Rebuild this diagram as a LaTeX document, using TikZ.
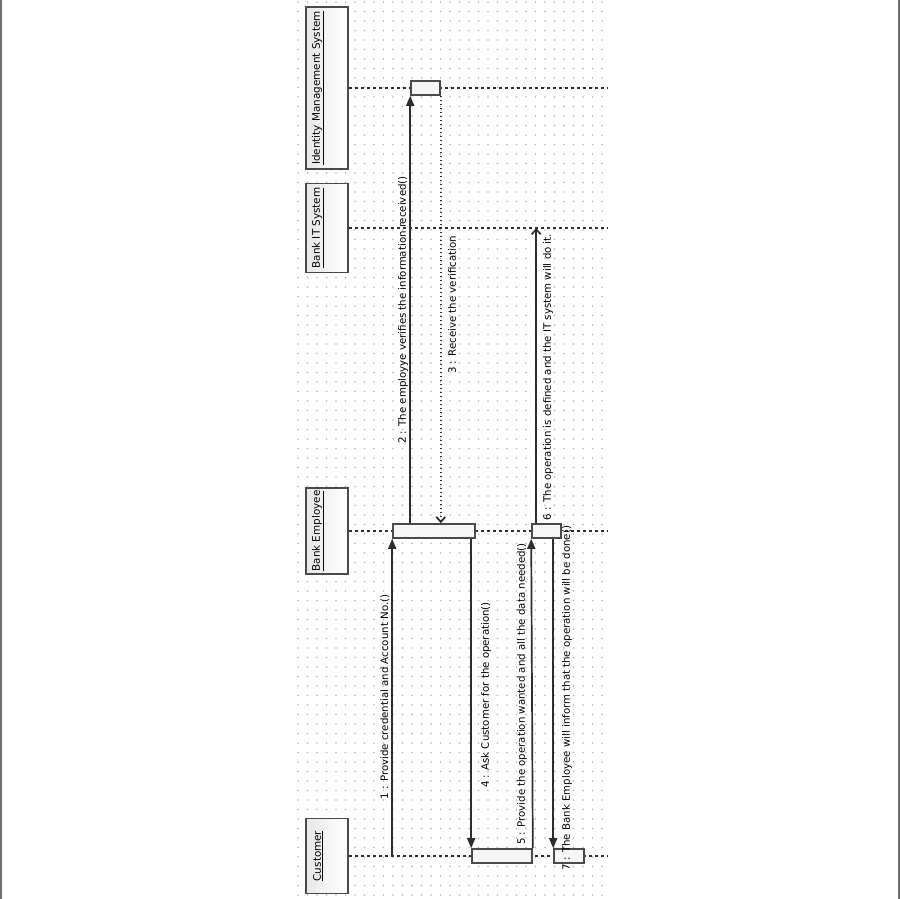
\documentclass[tikz,border=0pt]{standalone}
\usepackage{fontspec}
\setmainfont{DejaVu Sans}
\usetikzlibrary{arrows.meta,calc}
\definecolor{inkgray}{HTML}{2E2E2E}
\definecolor{boxedge}{HTML}{4A4A4A}
\definecolor{dotgray}{HTML}{B5B5B5}
\definecolor{framegray}{HTML}{707070}
\definecolor{actfill}{HTML}{F6F6F6}
\tikzset{
  party/.style={draw=boxedge, line width=1.6pt, left color=black!9, right color=white,
    minimum width=42pt, inner sep=0pt},
  partyname/.style={rotate=90, font=\fontsize{10.4}{12}\selectfont, text=black, inner sep=0pt},
  lifeline/.style={draw=inkgray, line width=1.9pt, dash pattern=on 3pt off 3pt},
  actbox/.style={draw=boxedge, line width=1.6pt, fill=actfill, minimum height=14pt, inner sep=0pt},
  callmsg/.style={draw=inkgray, line width=1.7pt, -{Triangle[length=10pt,width=8pt]}},
  asyncmsg/.style={draw=inkgray, line width=1.7pt, -{Straight Barb[length=5pt,width=9pt]}},
  replymsg/.style={draw=inkgray, line width=1.8pt, dash pattern=on 1.6pt off 2.4pt,
    -{Straight Barb[length=5pt,width=9pt]}},
  msglabel/.style={rotate=90, font=\fontsize{10.2}{12}\selectfont, text=black, inner sep=0pt}
}
\begin{document}
\begin{tikzpicture}[x=1pt,y=-1pt]
\useasboundingbox (0,0) rectangle (900,899);
\fill[white] (0,0) rectangle (900,899);
% page frame
\draw[framegray, line width=1.8pt] (0.9,0) -- (0.9,899);
\draw[framegray, line width=1.8pt] (899.1,0) -- (899.1,899);
% dotted drawing grid
\foreach \i in {0,...,32}
  \foreach \j in {0,...,94}
    \fill[dotgray] (298+\i*9.5, 2+\j*9.5) circle (0.8);

% participants
\node[party, minimum height=162pt] (ims) at (327,88) {};
\node[party, minimum height=89pt]  (bit) at (327,228) {};
\node[party, minimum height=86pt]  (emp) at (327,531) {};
\node[party, minimum height=75pt]  (cus) at (327,856) {};
\node[partyname] (imsname) at (318,88)  {\underline{Identity Management System}};
\node[partyname] (bitname) at (318,228) {\underline{Bank IT System}};
\node[partyname] (empname) at (318,531) {\underline{Bank Employee}};
\node[partyname] (cusname) at (318,856) {\underline{Customer}};

% lifelines
\draw[lifeline] (ims.east) -- ++(259,0);
\draw[lifeline] (bit.east) -- ++(259,0);
\draw[lifeline] (emp.east) -- ++(259,0);
\draw[lifeline] (cus.east) -- ++(259,0);

% activations
\node[actbox, minimum width=29pt] (imsact) at (425.5,88) {};
\node[actbox, minimum width=82pt] (emp1) at (434,531) {};
\node[actbox, minimum width=29pt] (emp2) at (546.5,531) {};
\node[actbox, minimum width=60pt] (cus1) at (502,856) {};
\node[actbox, minimum width=30pt] (cus2) at (569,856) {};

% message end points
\coordinate (m1s) at (emp1.south west |- cus.east);
\coordinate (m2s) at (imsact.south west |- emp1.north);
\coordinate (m3e) at (imsact.south east |- emp1.north);
\coordinate (m4s) at (cus1.north west |- emp1.south);
\coordinate (m6s) at ($(emp2.north west)+(5,0)$);
\coordinate (m6e) at (m6s |- bit.east);
\coordinate (m7s) at (cus2.north west |- emp2.south);

% messages
\draw[callmsg]  (m1s) -- (emp1.south west);
\draw[callmsg]  (m2s) -- (imsact.south west);
\draw[replymsg] (imsact.south east) -- (m3e);
\draw[callmsg]  (m4s) -- (cus1.north west);
\draw[callmsg]  (cus1.north east) -- (emp2.south west);
\draw[asyncmsg] (m6s) -- (m6e);
\draw[callmsg]  (m7s) -- (cus2.north west);

% message labels
\node[msglabel] (l1) at (385,697) {1 : Provide credential and Account No.()};
\node[msglabel] (l2) at (403,310) {2 : The employye verifies the information received()};
\node[msglabel] (l3) at (452,305) {3 : Receive the verification};
\node[msglabel] (l4) at (486,695) {4 : Ask Customer for the operation()};
\node[msglabel] (l5) at (522,694) {5 : Provide the operation wanted and all the data needed()};
\node[msglabel] (l6) at (548,377) {6 : The operation is defined and the IT system will do it.};
\node[msglabel] (l7) at (567,698) {7 : The Bank Employee will inform that the operation will be done()};
\end{tikzpicture}
\end{document}
